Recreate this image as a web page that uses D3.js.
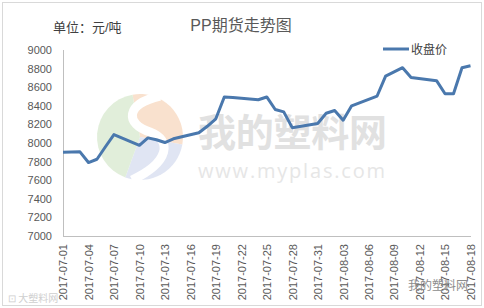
<!DOCTYPE html>
<html>
<head>
<meta charset="utf-8">
<script src="https://cdn.jsdelivr.net/npm/d3@7"></script>
<style>
	body { margin:0; background:#fff; }
	svg { display:block; font-family:"Liberation Sans","Noto Sans CJK SC",sans-serif; }
	.axis text { fill:#595959; font-size:11px; }
	.axis path { stroke:#bfbfbf; }
</style>
</head>
<body>
<svg id="myGraph" width="484" height="308"></svg>
<script>
// 데이터: 날짜, 종가
var dates = [
	"2017-07-01","2017-07-03","2017-07-04","2017-07-05","2017-07-06","2017-07-07",
	"2017-07-10","2017-07-11","2017-07-12","2017-07-13","2017-07-14",
	"2017-07-17","2017-07-18","2017-07-19","2017-07-20","2017-07-21",
	"2017-07-24","2017-07-25","2017-07-26","2017-07-27","2017-07-28",
	"2017-07-31","2017-08-01","2017-08-02","2017-08-03","2017-08-04",
	"2017-08-07","2017-08-08","2017-08-09","2017-08-10","2017-08-11",
	"2017-08-14","2017-08-15","2017-08-16","2017-08-17","2017-08-18"
];
var closes = [
	7900, 7905, 7790, 7825, 7960, 8090,
	7975, 8055, 8035, 8005, 8045,
	8110, 8180, 8260, 8495, 8490,
	8465, 8495, 8360, 8335, 8165,
	8210, 8320, 8350, 8245, 8400,
	8505, 8720, 8765, 8810, 8705,
	8670, 8530, 8530, 8810, 8830
];
var yTicks = [7000,7200,7400,7600,7800,8000,8200,8400,8600,8800,9000];
var xTickLabels = ["2017-07-01","2017-07-04","2017-07-07","2017-07-10","2017-07-13","2017-07-16",
	"2017-07-19","2017-07-22","2017-07-25","2017-07-28","2017-07-31","2017-08-03",
	"2017-08-06","2017-08-09","2017-08-12","2017-08-15","2017-08-18"];
var seriesName = "收盘价";

var svg = d3.select("#myGraph");
var parse = d3.utcParse("%Y-%m-%d");
var fmt = d3.utcFormat("%Y-%m-%d");
var dataSet = dates.map(function(d,i){ return [parse(d), closes[i]]; });

// 바깥 테두리
svg.append("rect").attr("x",2.5).attr("y",2.5).attr("width",479).attr("height",303)
	.attr("fill","none").attr("stroke","#d9d9d9");

// 워터마크 (로고 + 글자)
var wm = svg.append("g");
var logo = [["#f8dcc6",-10,100],["#dbe1f1",100,200],["#dcebd3",200,350]];
logo.forEach(function(c){
	var arc = d3.arc().innerRadius(0).outerRadius(43)
		.startAngle(c[1]*Math.PI/180).endAngle(c[2]*Math.PI/180);
	wm.append("path").attr("d",arc()).attr("transform","translate(140,137)")
		.attr("fill",c[0]).attr("opacity",0.85);
});
wm.append("path").attr("d","M160,96 C125,104 125,124 150,132 C172,140 170,162 132,180")
	.attr("fill","none").attr("stroke","#fff").attr("stroke-width",9);
wm.append("text").attr("x",198).attr("y",146).attr("font-size",38).attr("font-weight","bold")
	.attr("font-family","Noto Sans CJK SC").attr("fill","#e1e1e1").attr("textLength",189).text("我的塑料网");
wm.append("text").attr("x",198).attr("y",178).attr("font-size",20)
	.attr("font-family","Open Sans").attr("fill","#e6e6e6").attr("textLength",187).text("www.myplas.com");

var xScale = d3.scaleUtc().domain([parse("2017-07-01"), parse("2017-08-18")]).range([63, 470.5]);
var yScale = d3.scaleLinear().domain([7000, 9000]).range([236, 50]);

// Y축
svg.append("g").attr("class","axis").attr("transform","translate(63,0)")
	.call(d3.axisLeft(yScale).tickValues(yTicks).tickSize(0).tickPadding(11).tickFormat(d3.format("d")))
	.call(function(g){ g.select(".domain").attr("d","M0.5,50V236.5"); });

// X축
svg.append("g").attr("class","axis").attr("transform","translate(0,236)")
	.call(d3.axisBottom(xScale).tickValues(xTickLabels.map(parse)).tickSize(0).tickFormat(fmt))
	.call(function(g){
		g.select(".domain").attr("d","M63,0.5H471");
		g.selectAll("text").attr("transform","rotate(-90)").attr("text-anchor","end")
			.attr("x",-8).attr("y",0).attr("dy","0.35em");
	});

// 꺾은선
var line = d3.line().x(function(d){ return xScale(d[0]); }).y(function(d){ return yScale(d[1]); });
svg.append("path").datum(dataSet).attr("d",line).attr("fill","none")
	.attr("stroke","#4a78ad").attr("stroke-width",3).attr("stroke-linejoin","round");

// 제목, 단위
svg.append("text").attr("x",241).attr("y",31).attr("text-anchor","middle").attr("font-size",16)
	.attr("fill","#595959").text("PP期货走势图");
svg.append("text").attr("x",53).attr("y",32).attr("font-size",13)
	.attr("fill","#404040").text("单位：元/吨");

// 범례
svg.append("line").attr("x1",383).attr("x2",409).attr("y1",49).attr("y2",49)
	.attr("stroke","#4a78ad").attr("stroke-width",3);
svg.append("text").attr("x",411).attr("y",54).attr("font-size",12)
	.attr("fill","#404040").text(seriesName);

// 하단 워터마크
svg.append("text").attr("x",8).attr("y",302).attr("font-size",10).attr("fill","#cfcfcf")
	.attr("font-family","Noto Sans CJK SC").text("⊡ 大塑料网");
svg.append("text").attr("x",408).attr("y",290).attr("font-size",12).attr("fill","#8c8c8c")
	.attr("font-family","Noto Sans CJK SC").text("我的塑料网");
</script>
</body>
</html>
